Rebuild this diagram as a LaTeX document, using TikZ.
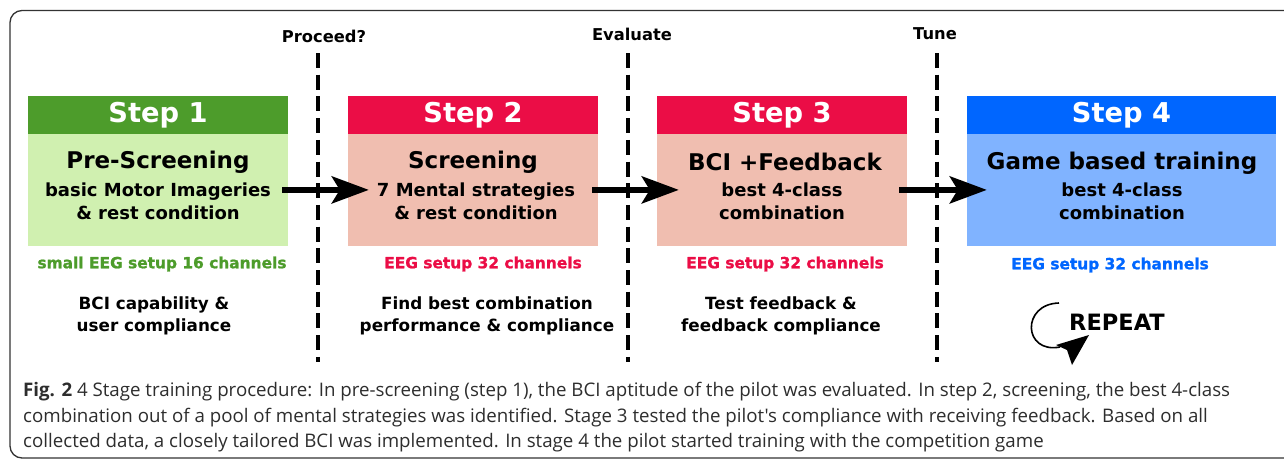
\documentclass[tikz,border=0pt]{standalone}
\usepackage{fontspec}
\setmainfont{DejaVu Sans}
\newfontfamily\capfont{Open Sans}
\newfontfamily\capfontbold{Open Sans Bold}
\newfontfamily\heavyfont[FakeBold=1.2]{DejaVu Sans Bold}
\usetikzlibrary{arrows.meta}
\definecolor{gh}{RGB}{77,156,43}
\definecolor{gb}{RGB}{208,240,176}
\definecolor{rh}{RGB}{235,13,70}
\definecolor{rb}{RGB}{240,190,176}
\definecolor{bh}{RGB}{0,102,255}
\definecolor{bb}{RGB}{128,179,255}
\definecolor{framec}{RGB}{51,51,51}
\definecolor{capc}{RGB}{45,45,45}
\tikzset{
  hdr/.style={minimum width=#1, minimum height=38pt, inner sep=0pt, text=white, font=\fontsize{27.3}{30}\bfseries\selectfont},
  bodyb/.style={minimum width=#1, minimum height=112pt, inner sep=0pt},
  ttl/.style={font=\fontsize{23}{26}\bfseries\selectfont, inner sep=0pt},
  sub/.style={font=\fontsize{18}{23}\bfseries\selectfont, align=center, inner sep=0pt},
  eeg/.style={font=\fontsize{15.4}{18}\heavyfont, inner sep=0pt},
  note/.style={font=\fontsize{16.8}{22}\bfseries\selectfont, align=center, inner sep=0pt},
  gate/.style={font=\fontsize{16.3}{18}\bfseries\selectfont, inner sep=0pt},
  sep/.style={line width=4.5pt, dash pattern=on 15pt off 6.7pt},
  bigarrow/.style={line width=5.7pt, -{Stealth[length=37pt, width=27pt, inset=8pt]}},
  capline/.style={anchor=base west, inner sep=0pt, text=capc, font=\fontsize{18.7}{20}\capfont},
}
\begin{document}
\begin{tikzpicture}[x=1pt,y=-1pt]
\useasboundingbox (0,0) rectangle (1284,461);
\clip (0,0) rectangle (1284,461);
\draw[framec, line width=1.3pt, rounded corners=12pt] (10,10.5) rectangle (1320,458);

% Step 1
\node[hdr=260pt, fill=gh] (h1) at (158,115) {Step 1};
\node[bodyb=260pt, fill=gb, anchor=north] (b1) at (h1.south) {};
\node[ttl] (t1) at (158,162) {Pre-Screening};
\node[sub] (s1) at (158,201) {basic Motor Imageries\\\& rest condition};
\node[eeg, text=gh] (e1) at (162,264) {small EEG setup 16 channels};
\node[note] (n1) at (154,316) {BCI capability \&\\user compliance};

% Step 2
\node[hdr=250pt, fill=rh] (h2) at (473,115) {Step 2};
\node[bodyb=250pt, fill=rb, anchor=north] (b2) at (h2.south) {};
\node[ttl] (t2) at (473,162) {Screening};
\node[sub] (s2) at (476,201) {7 Mental strategies\\\& rest condition};
\node[eeg, text=rh] (e2) at (483,264) {EEG setup 32 channels};
\node[note] (n2) at (487,316) {Find best combination\\performance \& compliance};

% Step 3
\node[hdr=250pt, fill=rh] (h3) at (782,115) {Step 3};
\node[bodyb=250pt, fill=rb, anchor=north] (b3) at (h3.south) {};
\node[ttl] (t3) at (785,162) {BCI +Feedback};
\node[sub] (s3) at (782,201) {best 4-class\\combination};
\node[eeg, text=rh] (e3) at (785,264) {EEG setup 32 channels};
\node[note] (n3) at (781,316) {Test feedback \&\\feedback compliance};

% Step 4
\node[hdr=309pt, fill=bh] (h4) at (1121.5,115) {Step 4};
\node[bodyb=309pt, fill=bb, anchor=north] (b4) at (h4.south) {};
\node[ttl] (t4) at (1122,163) {Game based training};
\node[sub] (s4) at (1122,201) {best 4-class\\combination};
\node[eeg, text=bh] (e4) at (1110,265) {EEG setup 32 channels};

% gates
\coordinate (d1a) at (318,53); \coordinate (d1b) at (318,362);
\coordinate (d2a) at (628,53); \coordinate (d2b) at (628,362);
\coordinate (d3a) at (937,53); \coordinate (d3b) at (937,362);
\draw[sep] (d1a) -- (d1b);
\draw[sep] (d2a) -- (d2b);
\draw[sep] (d3a) -- (d3b);
\node[gate] (g1) at (324,36) {Proceed?};
\node[gate] (g2) at (632,34) {Evaluate};
\node[gate] (g3) at (935,34) {Tune};

% arrows
\draw[bigarrow] ([xshift=-6pt,yshift=0.5pt]b1.east) -- ([xshift=21pt,yshift=0.5pt]b2.west);
\draw[bigarrow] ([xshift=-6pt,yshift=0.5pt]b2.east) -- ([xshift=22pt,yshift=0.5pt]b3.west);
\draw[bigarrow] ([xshift=-8pt,yshift=0.5pt]b3.east) -- ([xshift=20pt,yshift=0.5pt]b4.west);

% repeat
\node[font=\fontsize{22.5}{24}\bfseries\selectfont, inner sep=0pt] (rep) at (1117,322) {REPEAT};
\coordinate (r1) at (1059,303);
\coordinate (r2) at (1060,347);
\draw[line width=1.6pt] (r1) .. controls (1021,304) and (1023,354) .. (r2);
\fill (1056,345) -- (1089,335) -- (1072,365) -- (1067,350) -- cycle;

% caption
\node[capline] (c1) at (23,396.5) {{\capfontbold Fig. 2} 4 Stage training procedure: In pre-screening (step 1), the BCI aptitude of the pilot was evaluated. In step 2, screening, the best 4-class};
\node[capline] (c2) at (23,422) {combination out of a pool of mental strategies was identified. Stage 3 tested the pilot's compliance with receiving feedback. Based on all};
\node[capline] (c3) at (23,447) {collected data, a closely tailored BCI was implemented. In stage 4 the pilot started training with the competition game};
\end{tikzpicture}
\end{document}
